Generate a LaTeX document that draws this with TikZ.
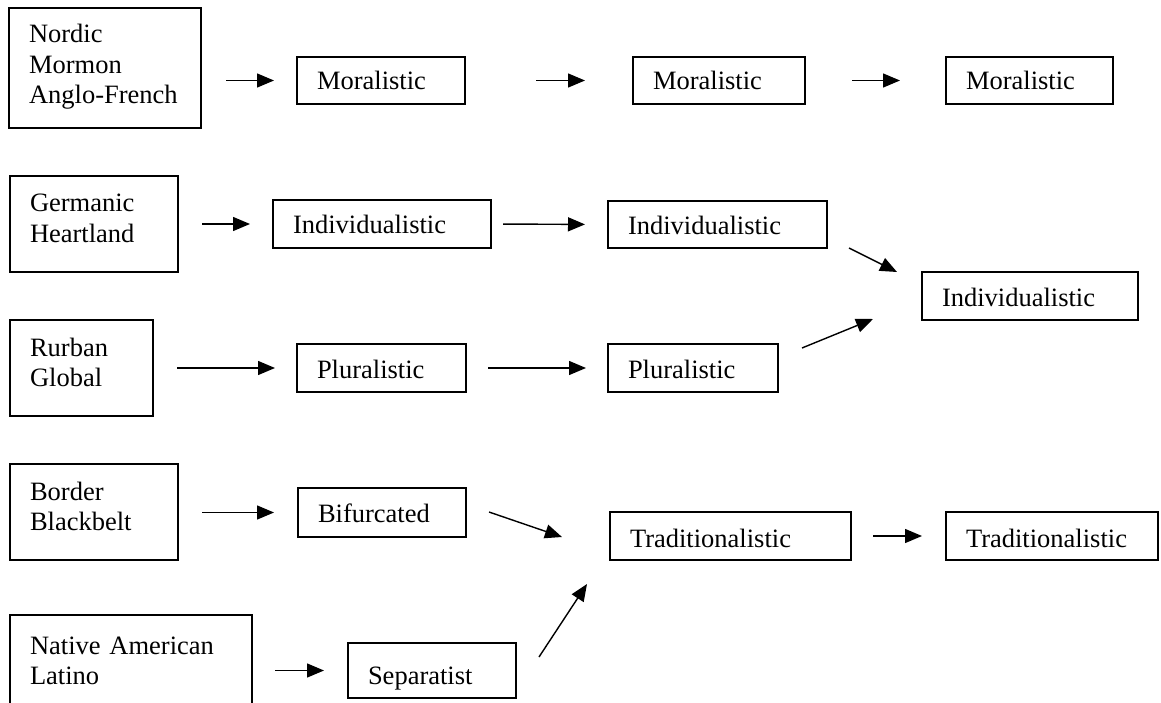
\documentclass[tikz,border=0pt]{standalone}
\usepackage{fontspec}
\setmainfont{Liberation Serif}
\usetikzlibrary{arrows.meta}
\tikzset{
  box/.style={draw, line width=1.5pt, anchor=north west, inner xsep=20pt, inner ysep=0pt,
    outer sep=0pt, align=left, font=\fontsize{26.5}{30.5}\selectfont},
  arr/.style={-{Triangle[length=17pt,width=14pt]}, line width=1.4pt},
}
\begin{document}
\begin{tikzpicture}[x=1pt,y=-1pt]
\clip (0,0) rectangle (1161,703);
% row 1
\node[box, text width=152pt, text height=35pt, text depth=85pt] (nordic) at (9,8) {Nordic\\Mormon\\Anglo-French};
\node[box, text width=128pt, text height=33pt, text depth=14pt] (mor1) at (297,57) {Moralistic};
\node[box, text width=132pt, text height=33pt, text depth=14pt] (mor2) at (633,57) {Moralistic};
\node[box, text width=127pt, text height=33pt, text depth=14pt] (mor3) at (946,57) {Moralistic};
% row 2
\node[box, text width=128pt, text height=36pt, text depth=60pt] (germ) at (10,176) {Germanic\\Heartland};
\node[box, text width=178pt, text height=34pt, text depth=14pt] (ind1) at (273,200) {Individualistic};
\node[box, text width=179pt, text height=34pt, text depth=13pt] (ind2) at (608,201) {Individualistic};
\node[box, text width=176pt, text height=34pt, text depth=14pt] (ind3) at (922,272) {Individualistic};
% row 3
\node[box, text width=103pt, text height=36pt, text depth=60pt] (rurb) at (10,320) {Rurban\\Global};
\node[box, text width=129pt, text height=34pt, text depth=14pt] (plu1) at (297,344) {Pluralistic};
\node[box, text width=130pt, text height=34pt, text depth=14pt] (plu2) at (608,344) {Pluralistic};
% row 4
\node[box, text width=128pt, text height=36pt, text depth=60pt] (bord) at (10,464) {Border\\Blackbelt};
\node[box, text width=128pt, text height=34pt, text depth=15pt] (bif) at (298,488) {Bifurcated};
\node[box, text width=201pt, text height=35pt, text depth=13pt] (trad1) at (610,512) {Traditionalistic};
\node[box, text width=172pt, text height=35pt, text depth=13pt] (trad2) at (946,512) {Traditionalistic};
% row 5
\node[box, text width=202pt, text height=39pt, text depth=71pt] (nat) at (10,615) {Native American\\Latino};
\node[box, text width=128pt, text height=41pt, text depth=14pt] (sep) at (348,643) {Separatist};
% horizontal arrows
\draw[arr, shorten <=25pt, shorten >=23pt] (nordic.east |- mor1.west) -- (mor1.west);
\draw[arr, shorten <=71pt, shorten >=48pt] (mor1.east) -- (mor2.west);
\draw[arr, shorten <=47pt, shorten >=46pt] (mor2.east) -- (mor3.west);
\draw[arr, shorten <=24pt, shorten >=23pt] (germ.east |- ind1.west) -- (ind1.west);
\draw[arr, shorten <=12pt, shorten >=23pt] (ind1.east) -- (ind2.west);
\draw[arr, shorten <=24pt, shorten >=22pt] (rurb.east |- plu1.west) -- (plu1.west);
\draw[arr, shorten <=22pt, shorten >=22pt] (plu1.east) -- (plu2.west);
\draw[arr, shorten <=24pt, shorten >=24pt] (bord.east |- bif.west) -- (bif.west);
\draw[arr, shorten <=22pt, shorten >=24pt] (trad1.east) -- (trad2.west);
\draw[arr, shorten <=23pt, shorten >=24pt] (nat.east |- sep.west) -- (sep.west);
% diagonal arrows (free ends)
\coordinate (d1s) at (849,248); \coordinate (d1e) at (897,272);
\coordinate (d2s) at (802,348); \coordinate (d2e) at (873,319);
\coordinate (d3s) at (489,512); \coordinate (d3e) at (562,537);
\coordinate (d4s) at (539,657); \coordinate (d4e) at (587,584);
\draw[arr] (d1s) -- (d1e);
\draw[arr] (d2s) -- (d2e);
\draw[arr] (d3s) -- (d3e);
\draw[arr] (d4s) -- (d4e);
\end{tikzpicture}
\end{document}
